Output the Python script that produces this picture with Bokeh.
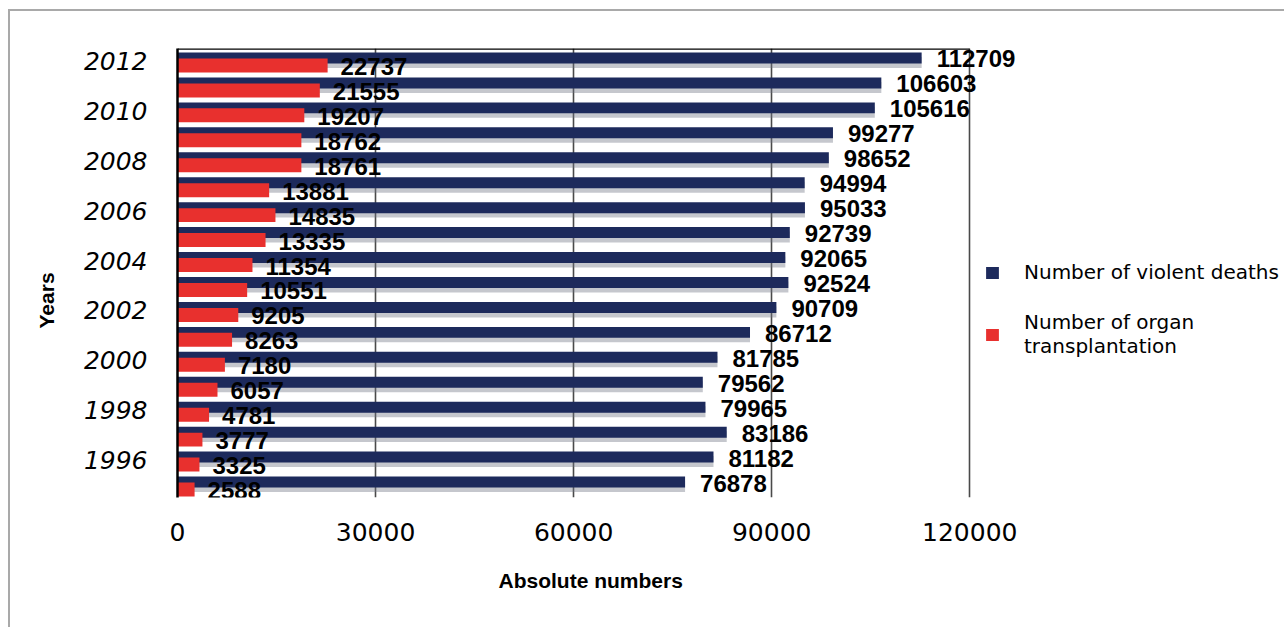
from bokeh.plotting import figure
from bokeh.models import (ColumnDataSource, Legend, LegendItem, FixedTicker,
                          Range1d, BasicTickFormatter, Title)
from bokeh.core.properties import value
from bokeh.transform import dodge
from bokeh.embed import file_html
from bokeh.resources import INLINE

# ---------------- data ----------------
years = list(range(1995, 2013))
violent_deaths = [76878, 81182, 83186, 79965, 79562, 81785, 86712, 90709, 92524,
                  92065, 92739, 95033, 94994, 98652, 99277, 105616, 106603, 112709]
organ_transplants = [2588, 3325, 3777, 4781, 6057, 7180, 8263, 9205, 10551,
                     11354, 13335, 14835, 13881, 18761, 18762, 19207, 21555, 22737]
year_ticks = [1996, 1998, 2000, 2002, 2004, 2006, 2008, 2010, 2012]
x_ticks = [0, 30000, 60000, 90000, 120000]
series_names = ["Number of violent deaths", "Number of organ\ntransplantation"]
x_title = "Absolute numbers"
y_title = "Years"

BLUE = "#1d2a5c"
RED = "#e8302e"

src = ColumnDataSource(dict(
    year=years,
    violent=violent_deaths,
    organ=organ_transplants,
    vlab=[str(v) for v in violent_deaths],
    olab=[str(v) for v in organ_transplants],
))

# frame spans 176..1284 px, the 120000 tick sits at 969 px
x_end = x_ticks[-1] * 1108 / 793
y_start, y_end = years[0] - 0.5, years[-1] + 0.5

p = figure(width=1274, height=616,
           x_range=Range1d(0, x_end), y_range=Range1d(y_start, y_end),
           output_backend="svg", toolbar_location=None,
           min_border_left=166, min_border_top=37, min_border_right=0, min_border_bottom=130)
p.margin = (11, 0, 0, 10)
p.styles = {"outline": "2px solid #a9a9a9"}
p.outline_line_color = None
p.background_fill_color = "white"

# grid
p.xgrid.ticker = FixedTicker(ticks=x_ticks)
p.xgrid.grid_line_color = "#4a4a4a"
p.xgrid.grid_line_width = 1.6
p.ygrid.grid_line_color = None

# shadow under blue bars
p.hbar(y=dodge("year", -0.06, range=p.y_range), left=0, right="violent", height=0.44,
       source=src, fill_color="#6f7482", fill_alpha=0.4, line_color=None)
blue = p.hbar(y=dodge("year", 0.12, range=p.y_range), left=0, right="violent", height=0.44,
              source=src, fill_color=BLUE, line_color=None)
red = p.hbar(y=dodge("year", -0.18, range=p.y_range), left=0, right="organ", height=0.56,
             source=src, fill_color=RED, line_color=None)

# top border line across the value range
p.segment(x0=x_ticks[0], x1=x_ticks[-1], y0=y_end, y1=y_end, line_color="black", line_width=2.5)

# value labels
p.text(x="violent", y=dodge("year", 0.08, range=p.y_range), text="vlab", source=src,
       x_offset=15, text_baseline="middle", text_align="left",
       text_font=value("Liberation Sans"), text_font_style="bold",
       text_font_size="24px", text_color="black")
p.text(x="organ", y=dodge("year", -0.22, range=p.y_range), text="olab", source=src,
       x_offset=13, text_baseline="middle", text_align="left",
       text_font=value("Liberation Sans"), text_font_style="bold",
       text_font_size="24px", text_color="black")

# x axis
xa = p.xaxis[0]
xa.ticker = FixedTicker(ticks=x_ticks)
xa.formatter = BasicTickFormatter(use_scientific=False)
xa.axis_line_color = None
xa.major_tick_line_color = None
xa.minor_tick_line_color = None
xa.major_label_text_font = "DejaVu Sans"
xa.major_label_text_font_size = "25px"
xa.major_label_text_color = "black"
xa.major_label_standoff = 19

# y axis
ya = p.yaxis[0]
ya.ticker = FixedTicker(ticks=year_ticks)
ya.formatter = BasicTickFormatter(use_scientific=False)
ya.axis_line_color = "black"
ya.axis_line_width = 2.5
ya.major_tick_line_color = None
ya.minor_tick_line_color = None
ya.major_label_text_font = "DejaVu Sans"
ya.major_label_text_font_style = "italic"
ya.major_label_text_font_size = "25px"
ya.major_label_text_color = "black"
ya.major_label_standoff = 24

# axis titles as offset titles
xt = Title(text=x_title, align="left", offset=321, standoff=46,
           text_font="Liberation Sans", text_font_style="bold",
           text_font_size="21px", text_color="black")
p.add_layout(xt, "below")
yt = Title(text=y_title, align="left", offset=169, standoff=45,
           text_font="Liberation Sans", text_font_style="bold",
           text_font_size="21px", text_color="black")
p.add_layout(yt, "left")

legend = Legend(items=[LegendItem(label=series_names[0], renderers=[blue]),
                       LegendItem(label=series_names[1], renderers=[red])],
                location=(807, 139))
legend.label_text_font = "DejaVu Sans"
legend.label_text_font_size = "20px"
legend.label_text_color = "black"
legend.label_text_line_height = 1.45
legend.glyph_width = 16
legend.glyph_height = 15
legend.label_standoff = 24
legend.spacing = 26
legend.padding = 0
legend.margin = 0
legend.border_line_color = None
legend.background_fill_alpha = 0
p.add_layout(legend)

open("out.html", "w").write(file_html(p, INLINE))
